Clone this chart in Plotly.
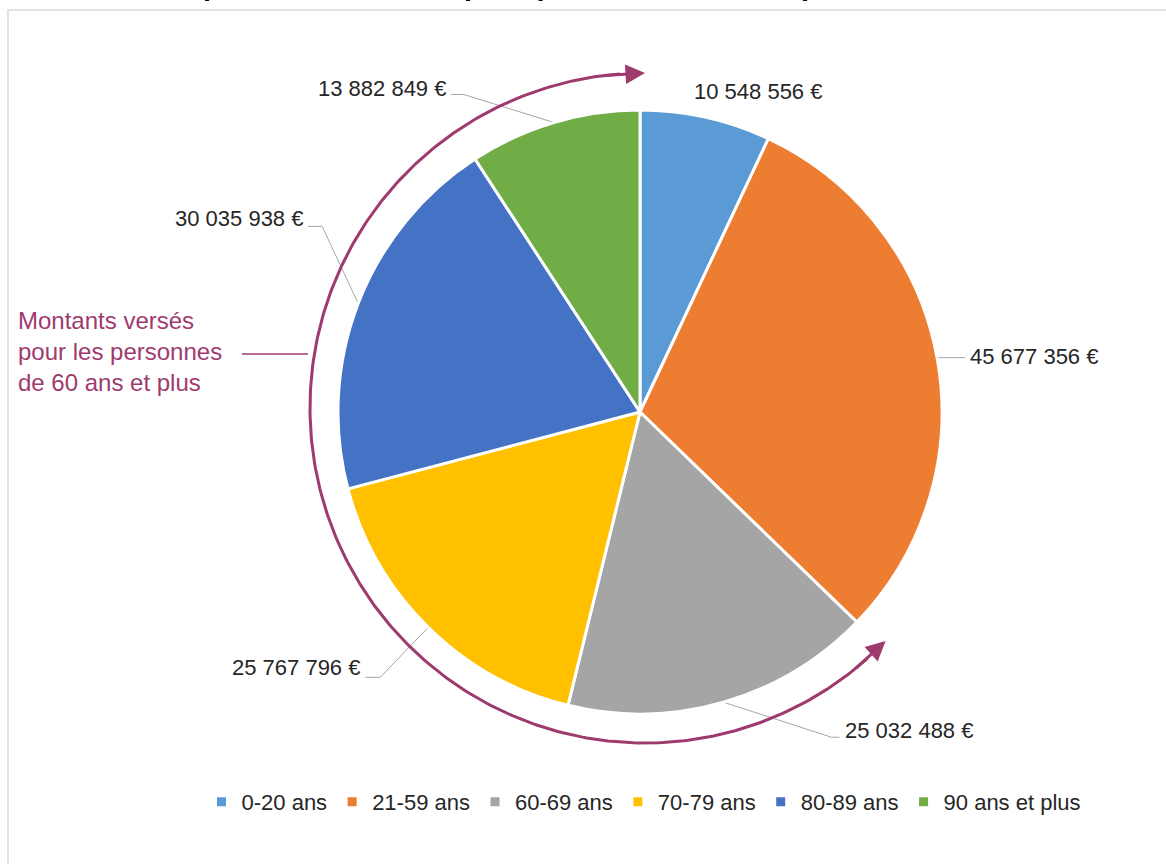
import numpy as np
import plotly.graph_objects as go

# ---------------- data ----------------
categories = ["0-20 ans", "21-59 ans", "60-69 ans", "70-79 ans", "80-89 ans", "90 ans et plus"]
amounts = [10548556, 45677356, 25032488, 25767796, 30035938, 13882849]
colors = ["#5B9BD5", "#ED7D31", "#A5A5A5", "#FFC000", "#4472C4", "#70AD47"]
senior_first_index = 2  # "60-69 ans" and after: persons aged 60 and over
title_text = "pour les véhicules pour personnes handicapées en 2016"
note_text = "Montants versés<br>pour les personnes<br>de 60 ans et plus"

label_texts = [f"{v:,}".replace(",", " ") + " €" for v in amounts]

# ---------------- layout constants ----------------
W, H = 1166, 864
CX, CY, R = 640, 412, 302          # pie centre / radius in px
ARC_CX, ARC_CY, ARC_R = 645, 408, 335
PURPLE = "#9E3A6E"
TXT = "#262626"
LEADER = "#A6A6A6"
FONT = "Liberation Sans, Arial"

# label placement: elbow offset from slice edge, horizontal tail, text y shift
label_layout = [
    dict(ex=-14, ey=-26, tail=None, ty=0),
    dict(ex=28, ey=0, tail=0, ty=-1),
    dict(ex=108, ey=35, tail=8, ty=-7),
    dict(ex=-48, ey=50, tail=-15, ty=-10),
    dict(ex=-36, ey=-77, tail=-14, ty=-8),
    dict(ex=-90, ey=-28, tail=-13, ty=-6),
]

total = float(sum(amounts))
fr = np.array(amounts) / total
cum = np.concatenate([[0], np.cumsum(fr)])
mid = (cum[:-1] + cum[1:]) / 2.0


def pt(cx, cy, r, frac):
    a = 2 * np.pi * frac  # clockwise from 12 o'clock
    return cx + r * np.sin(a), cy - r * np.cos(a)


fig = go.Figure()

# pie
fig.add_trace(go.Pie(
    labels=categories, values=amounts, sort=False, direction="clockwise",
    rotation=0, textinfo="none", hoverinfo="label+value",
    marker=dict(colors=colors, line=dict(color="white", width=3)),
    domain=dict(x=[(CX - R) / W, (CX + R) / W], y=[1 - (CY + R) / H, 1 - (CY - R) / H]),
    showlegend=True,
))

annotations = []

# leader lines + labels
for i, (txt, lay) in enumerate(zip(label_texts, label_layout)):
    ex0, ey0 = pt(CX, CY, R, mid[i])
    if lay["tail"] is None:
        annotations.append(dict(x=ex0 + lay["ex"], y=ey0 + lay["ey"], xref="x", yref="y",
                                text=txt, showarrow=False, xanchor="left", yanchor="middle",
                                font=dict(size=22, color=TXT, family=FONT)))
        continue
    bx, by = ex0 + lay["ex"], ey0 + lay["ey"]
    tx = bx + lay["tail"]
    fig.add_trace(go.Scatter(x=[ex0, bx, tx], y=[ey0, by, by], mode="lines",
                             line=dict(color=LEADER, width=1), showlegend=False, hoverinfo="skip"))
    right_side = (lay["tail"] > 0) or (lay["tail"] == 0 and lay["ex"] > 0)
    annotations.append(dict(x=tx + (3 if right_side else -3), y=by + lay["ty"], xref="x", yref="y",
                            text=txt, showarrow=False,
                            xanchor="left" if right_side else "right", yanchor="middle",
                            font=dict(size=22, color=TXT, family=FONT)))

# purple arc spanning the 60+ slices
f0, f1 = cum[senior_first_index], cum[-1]
inset = 0.012
fs = np.linspace(f0 + inset, f1 - inset, 300)
ax_pts = [pt(ARC_CX, ARC_CY, ARC_R, f) for f in fs]
fig.add_trace(go.Scatter(x=[p[0] for p in ax_pts], y=[p[1] for p in ax_pts], mode="lines",
                         line=dict(color=PURPLE, width=3), showlegend=False, hoverinfo="skip"))
# arrow heads at both ends
for tip_f, back_f in [(f1, f1 - 0.02), (f0, f0 + 0.02)]:
    tx_, ty_ = pt(ARC_CX, ARC_CY, ARC_R, tip_f)
    bx_, by_ = pt(ARC_CX, ARC_CY, ARC_R, back_f)
    annotations.append(dict(x=tx_, y=ty_, ax=bx_, ay=by_, xref="x", yref="y", axref="x", ayref="y",
                            text="", showarrow=True, arrowhead=2, arrowsize=1.3, arrowwidth=3,
                            arrowcolor=PURPLE, standoff=0))

# note text + connector
annotations.append(dict(x=16, y=351, xref="x", yref="y", text=note_text, showarrow=False,
                        xanchor="left", yanchor="middle", align="left",
                        font=dict(size=24, color=PURPLE, family=FONT)))
fig.add_trace(go.Scatter(x=[242, 308], y=[354, 354], mode="lines",
                         line=dict(color=PURPLE, width=1.5), showlegend=False, hoverinfo="skip"))

# title (cut off at the top edge, as in the source)
annotations.append(dict(x=592 / W, y=1 - 3 / H, xref="paper", yref="paper", text="<b>" + title_text + "</b>",
                        showarrow=False, xanchor="center", yanchor="bottom",
                        font=dict(size=29, color="black", family=FONT)))

fig.update_layout(
    width=W, height=H, margin=dict(l=0, r=0, t=0, b=0),
    paper_bgcolor="white", plot_bgcolor="white",
    xaxis=dict(range=[0, W], visible=False, fixedrange=True, domain=[0, 1]),
    yaxis=dict(range=[H, 0], visible=False, fixedrange=True, domain=[0, 1]),
    annotations=annotations,
    shapes=[dict(type="rect", xref="x", yref="y", x0=8, y0=10, x1=W + 10, y1=H + 10,
                 line=dict(color="#D9D9D9", width=1.5), layer="below")],
    legend=dict(orientation="h", x=644 / W, xanchor="center", y=1 - 802 / H, yanchor="middle",
                font=dict(size=22, color=TXT, family=FONT),
                bgcolor="rgba(0,0,0,0)"),
)

fig.write_html("out.html")
